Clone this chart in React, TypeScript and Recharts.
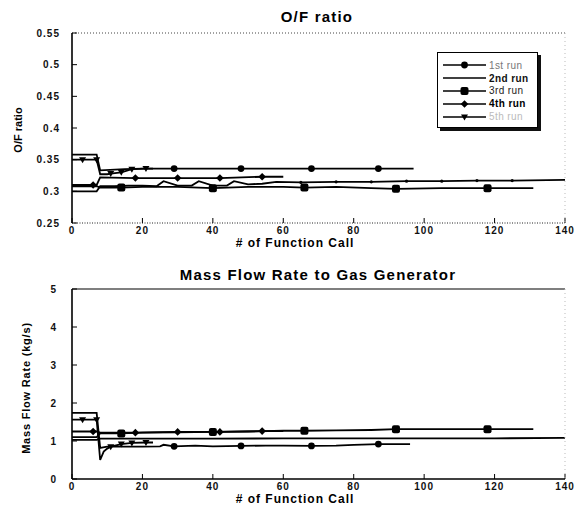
import React from 'react'
import { LineChart, Line, XAxis, YAxis, Legend } from 'recharts'

const FONT = "'Liberation Sans', Arial, sans-serif"

const callTicks = [0, 20, 40, 60, 80, 100, 120, 140]
const ofTicks = [0.25, 0.3, 0.35, 0.4, 0.45, 0.5, 0.55]
const flowTicks = [0, 1, 2, 3, 4, 5]
const runNames = ['1st run', '2nd run', '3rd run', '4th run', '5th run']

// 1st run (circles)
const run1CallsOF = [0, 7, 8, 15, 20, 29, 40, 48, 60, 68, 80, 87, 97]
const run1OF = [0.358, 0.358, 0.333, 0.335, 0.336, 0.336, 0.336, 0.336, 0.336, 0.336, 0.336, 0.336, 0.336]
const run1CallsFlow = [0, 7, 8, 10, 15, 20, 25, 26, 29, 35, 40, 48, 55, 60, 68, 75, 80, 87, 96]
const run1Flow = [1.74, 1.74, 0.82, 0.85, 0.85, 0.85, 0.86, 0.9, 0.86, 0.88, 0.86, 0.87, 0.88, 0.88, 0.87, 0.88, 0.9, 0.92, 0.92]
const run1Marks = [29, 48, 68, 87]

// 2nd run (plain line)
const run2CallsOF = [0, 7, 8, 12, 16, 20, 24, 26, 30, 34, 36, 40, 44, 46, 50, 54, 58, 65, 75, 85, 95, 105, 115, 125, 140]
const run2OF = [0.3, 0.3, 0.308, 0.308, 0.309, 0.309, 0.308, 0.316, 0.309, 0.309, 0.316, 0.309, 0.309, 0.316, 0.311, 0.312, 0.315, 0.314, 0.315, 0.315, 0.316, 0.316, 0.317, 0.317, 0.318]
const run2CallsFlow = [0, 7, 8, 20, 40, 60, 80, 100, 120, 140]
const run2Flow = [1.03, 1.03, 1.06, 1.06, 1.06, 1.07, 1.07, 1.07, 1.07, 1.08]
const run2Marks = [65, 75, 85, 95, 105, 115, 125]

// 3rd run (big squares)
const run3Calls = [0, 7, 8, 14, 20, 30, 40, 50, 60, 66, 75, 85, 92, 105, 118, 131]
const run3OF = [0.308, 0.308, 0.306, 0.306, 0.307, 0.307, 0.305, 0.307, 0.307, 0.306, 0.307, 0.305, 0.304, 0.305, 0.305, 0.305]
const run3Flow = [1.1, 1.1, 1.2, 1.2, 1.22, 1.23, 1.24, 1.25, 1.27, 1.27, 1.28, 1.29, 1.31, 1.31, 1.31, 1.31]
const run3Marks = [14, 40, 66, 92, 118]

// 4th run (diamonds)
const run4Calls = [0, 6, 7, 8, 18, 30, 42, 54, 60]
const run4OF = [0.31, 0.31, 0.31, 0.322, 0.321, 0.321, 0.321, 0.323, 0.323]
const run4Flow = [1.25, 1.25, 1.25, 1.22, 1.22, 1.24, 1.24, 1.26, 1.26]
const run4Marks = [6, 18, 30, 42, 54]

// 5th run (triangles)
const run5Calls = [0, 3, 7, 8, 9, 10, 11, 14, 17, 21, 23]
const run5OF = [0.35, 0.35, 0.35, 0.327, 0.327, 0.327, 0.328, 0.33, 0.335, 0.336, 0.336]
const run5Flow = [1.56, 1.56, 1.56, 0.5, 0.72, 0.8, 0.85, 0.92, 0.95, 0.96, 0.96]
const run5Marks = [3, 7, 11, 14, 17, 21]

const pts = (xs: number[], ys: number[]) => xs.map((x, i) => ({ x, v: ys[i] }))

type Shape = 'circle' | 'none' | 'square' | 'diamond' | 'tri' | 'dot'
const runShapes: Shape[] = ['circle', 'none', 'square', 'diamond', 'tri']
const legendText = ['#777', '#111', '#222', '#000', '#bbb']

function Marker({ shape, cx, cy }: { shape: Shape; cx: number; cy: number }) {
  switch (shape) {
    case 'circle':
      return <circle cx={cx} cy={cy} r={3.4} fill="#000" />
    case 'square':
      return <rect x={cx - 4} y={cy - 4} width={8} height={8} rx={2} fill="#000" />
    case 'diamond':
      return <polygon points={`${cx},${cy - 3.8} ${cx + 3.8},${cy} ${cx},${cy + 3.8} ${cx - 3.8},${cy}`} fill="#000" />
    case 'tri':
      return <polygon points={`${cx - 3.5},${cy - 2.5} ${cx + 3.5},${cy - 2.5} ${cx},${cy + 3.5}`} fill="#000" />
    case 'dot':
      return <circle cx={cx} cy={cy} r={1.6} fill="#000" />
    default:
      return null
  }
}

const markerDot = (shape: Shape, marks: number[]) => (p: any) => {
  if (!marks.includes(p.payload.x)) return <g key={`d-${p.index}`} />
  return <Marker key={`d-${p.index}`} shape={shape} cx={p.cx} cy={p.cy} />
}

function LegendBox() {
  return (
    <div
      style={{
        width: 101,
        height: 76,
        border: '1px solid #000',
        boxShadow: '3px 3px 0 #111',
        background: '#fff',
        padding: '6px 0 0 5px',
        boxSizing: 'border-box',
        fontFamily: FONT,
      }}
    >
      {runNames.map((name, i) => (
        <div key={name} style={{ display: 'flex', alignItems: 'center', height: 12.8 }}>
          <svg width={43} height={10}>
            <line x1={0} y1={5} x2={43} y2={5} stroke="#000" strokeWidth={1.6} />
            <Marker shape={runShapes[i]} cx={21.5} cy={5} />
          </svg>
          <span
            style={{
              fontSize: 10,
              marginLeft: 3,
              color: legendText[i],
              letterSpacing: 0.4,
              fontWeight: i === 1 || i === 3 ? 'bold' : 'normal',
            }}
          >
            {name}
          </span>
        </div>
      ))}
    </div>
  )
}

const tickStyle = { fontSize: 10, fontWeight: 'bold' as const, fill: '#111', fontFamily: FONT, letterSpacing: 1 }
const lineProps = { type: 'linear' as const, dataKey: 'v', stroke: '#000', strokeWidth: 1.8, isAnimationActive: false, activeDot: false as const }

function Panel({
  series,
  domain,
  ticks,
  yMargin,
  solidFrame,
  legend,
}: {
  series: { name: string; data: { x: number; v: number }[]; shape: Shape; marks: number[] }[]
  domain: [number, number]
  ticks: number[]
  yMargin: number
  solidFrame: boolean
  legend?: boolean
}) {
  return (
    <LineChart width={580} height={250} margin={{ top: 32, right: 14, bottom: 7, left: 0 }}>
      <XAxis
        xAxisId="b"
        type="number"
        dataKey="x"
        domain={[0, 140]}
        ticks={callTicks}
        height={20}
        tickSize={-5}
        tickMargin={9}
        tick={tickStyle}
        axisLine={solidFrame ? { stroke: '#000', strokeWidth: 1.6 } : { stroke: '#222', strokeDasharray: '1 1.5' }}
        tickLine={{ stroke: '#000' }}
      />
      <XAxis
        xAxisId="t"
        orientation="top"
        type="number"
        dataKey="x"
        domain={[0, 140]}
        ticks={callTicks.slice(1, -1)}
        height={1}
        tickSize={-4}
        tick={false}
        axisLine={solidFrame ? { stroke: '#000', strokeWidth: 1.2 } : { stroke: '#444', strokeDasharray: '1 2' }}
        tickLine={{ stroke: '#333' }}
      />
      <YAxis
        yAxisId="l"
        type="number"
        domain={domain}
        ticks={ticks}
        width={72}
        tickSize={-5}
        tickMargin={yMargin}
        tick={tickStyle}
        axisLine={{ stroke: '#000', strokeWidth: 1.6 }}
        tickLine={{ stroke: '#000' }}
      />
      <YAxis
        yAxisId="r"
        orientation="right"
        type="number"
        domain={domain}
        ticks={ticks.slice(1, -1)}
        width={1}
        tickSize={-5}
        tick={false}
        axisLine={{ stroke: '#bbb', strokeDasharray: '1 3' }}
        tickLine={{ stroke: '#555' }}
      />
      {series.map((s) => (
        <Line
          key={s.name}
          {...lineProps}
          xAxisId="b"
          yAxisId="l"
          name={s.name}
          data={s.data}
          dot={markerDot(s.shape, s.marks)}
        />
      ))}
      {legend && (
        <Legend
          layout="vertical"
          align="center"
          verticalAlign="middle"
          content={() => <LegendBox />}
          wrapperStyle={{ left: 437, top: 52, width: 101, height: 76 }}
        />
      )}
    </LineChart>
  )
}

const txt = (extra: React.CSSProperties): React.CSSProperties => ({
  position: 'absolute',
  fontFamily: FONT,
  fontWeight: 'bold',
  color: '#000',
  whiteSpace: 'nowrap',
  textAlign: 'center',
  ...extra,
})

export default function App() {
  const ofSeries = [
    { name: runNames[0], data: pts(run1CallsOF, run1OF), shape: 'circle' as Shape, marks: run1Marks },
    { name: runNames[1], data: pts(run2CallsOF, run2OF), shape: 'dot' as Shape, marks: run2Marks },
    { name: runNames[2], data: pts(run3Calls, run3OF), shape: 'square' as Shape, marks: run3Marks },
    { name: runNames[3], data: pts(run4Calls, run4OF), shape: 'diamond' as Shape, marks: run4Marks },
    { name: runNames[4], data: pts(run5Calls, run5OF), shape: 'tri' as Shape, marks: run5Marks },
  ]
  const flowSeries = [
    { name: runNames[0], data: pts(run1CallsFlow, run1Flow), shape: 'circle' as Shape, marks: run1Marks },
    { name: runNames[1], data: pts(run2CallsFlow, run2Flow), shape: 'none' as Shape, marks: [] },
    { name: runNames[2], data: pts(run3Calls, run3Flow), shape: 'square' as Shape, marks: run3Marks },
    { name: runNames[3], data: pts(run4Calls, run4Flow), shape: 'diamond' as Shape, marks: run4Marks },
    { name: runNames[4], data: pts(run5Calls, run5Flow), shape: 'tri' as Shape, marks: run5Marks },
  ]

  return (
    <div style={{ position: 'absolute', left: 0, top: 0, width: 580, height: 506, background: '#fff', overflow: 'hidden' }}>
      <div style={{ position: 'absolute', left: 0, top: 0 }}>
        <Panel series={ofSeries} domain={[0.25, 0.55]} ticks={ofTicks} yMargin={17} solidFrame={false} legend />
      </div>
      <div style={{ position: 'absolute', left: 0, top: 256 }}>
        <Panel series={flowSeries} domain={[0, 5]} ticks={flowTicks} yMargin={20} solidFrame />
      </div>

      <div style={txt({ left: 217, width: 200, top: 8, fontSize: 15, lineHeight: '18px', letterSpacing: 1.2 })}>O/F ratio</div>
      <div style={txt({ left: 118, width: 400, top: 266, fontSize: 15, lineHeight: '18px', letterSpacing: 1.2 })}>
        Mass Flow Rate to Gas Generator
      </div>

      <div style={txt({ left: 195, width: 200, top: 236, fontSize: 12, lineHeight: '14px', letterSpacing: 1 })}># of Function Call</div>
      <div style={txt({ left: 195, width: 200, top: 492, fontSize: 12, lineHeight: '14px', letterSpacing: 1 })}># of Function Call</div>

      <div style={txt({ left: 18 - 50, width: 100, top: 130 - 7, fontSize: 11, lineHeight: '14px', transform: 'rotate(-90deg)' })}>
        O/F ratio
      </div>
      <div
        style={txt({ left: 26 - 90, width: 180, top: 388 - 7, fontSize: 11, lineHeight: '14px', letterSpacing: 0.8, transform: 'rotate(-90deg)' })}
      >
        Mass Flow Rate (kg/s)
      </div>
    </div>
  )
}
